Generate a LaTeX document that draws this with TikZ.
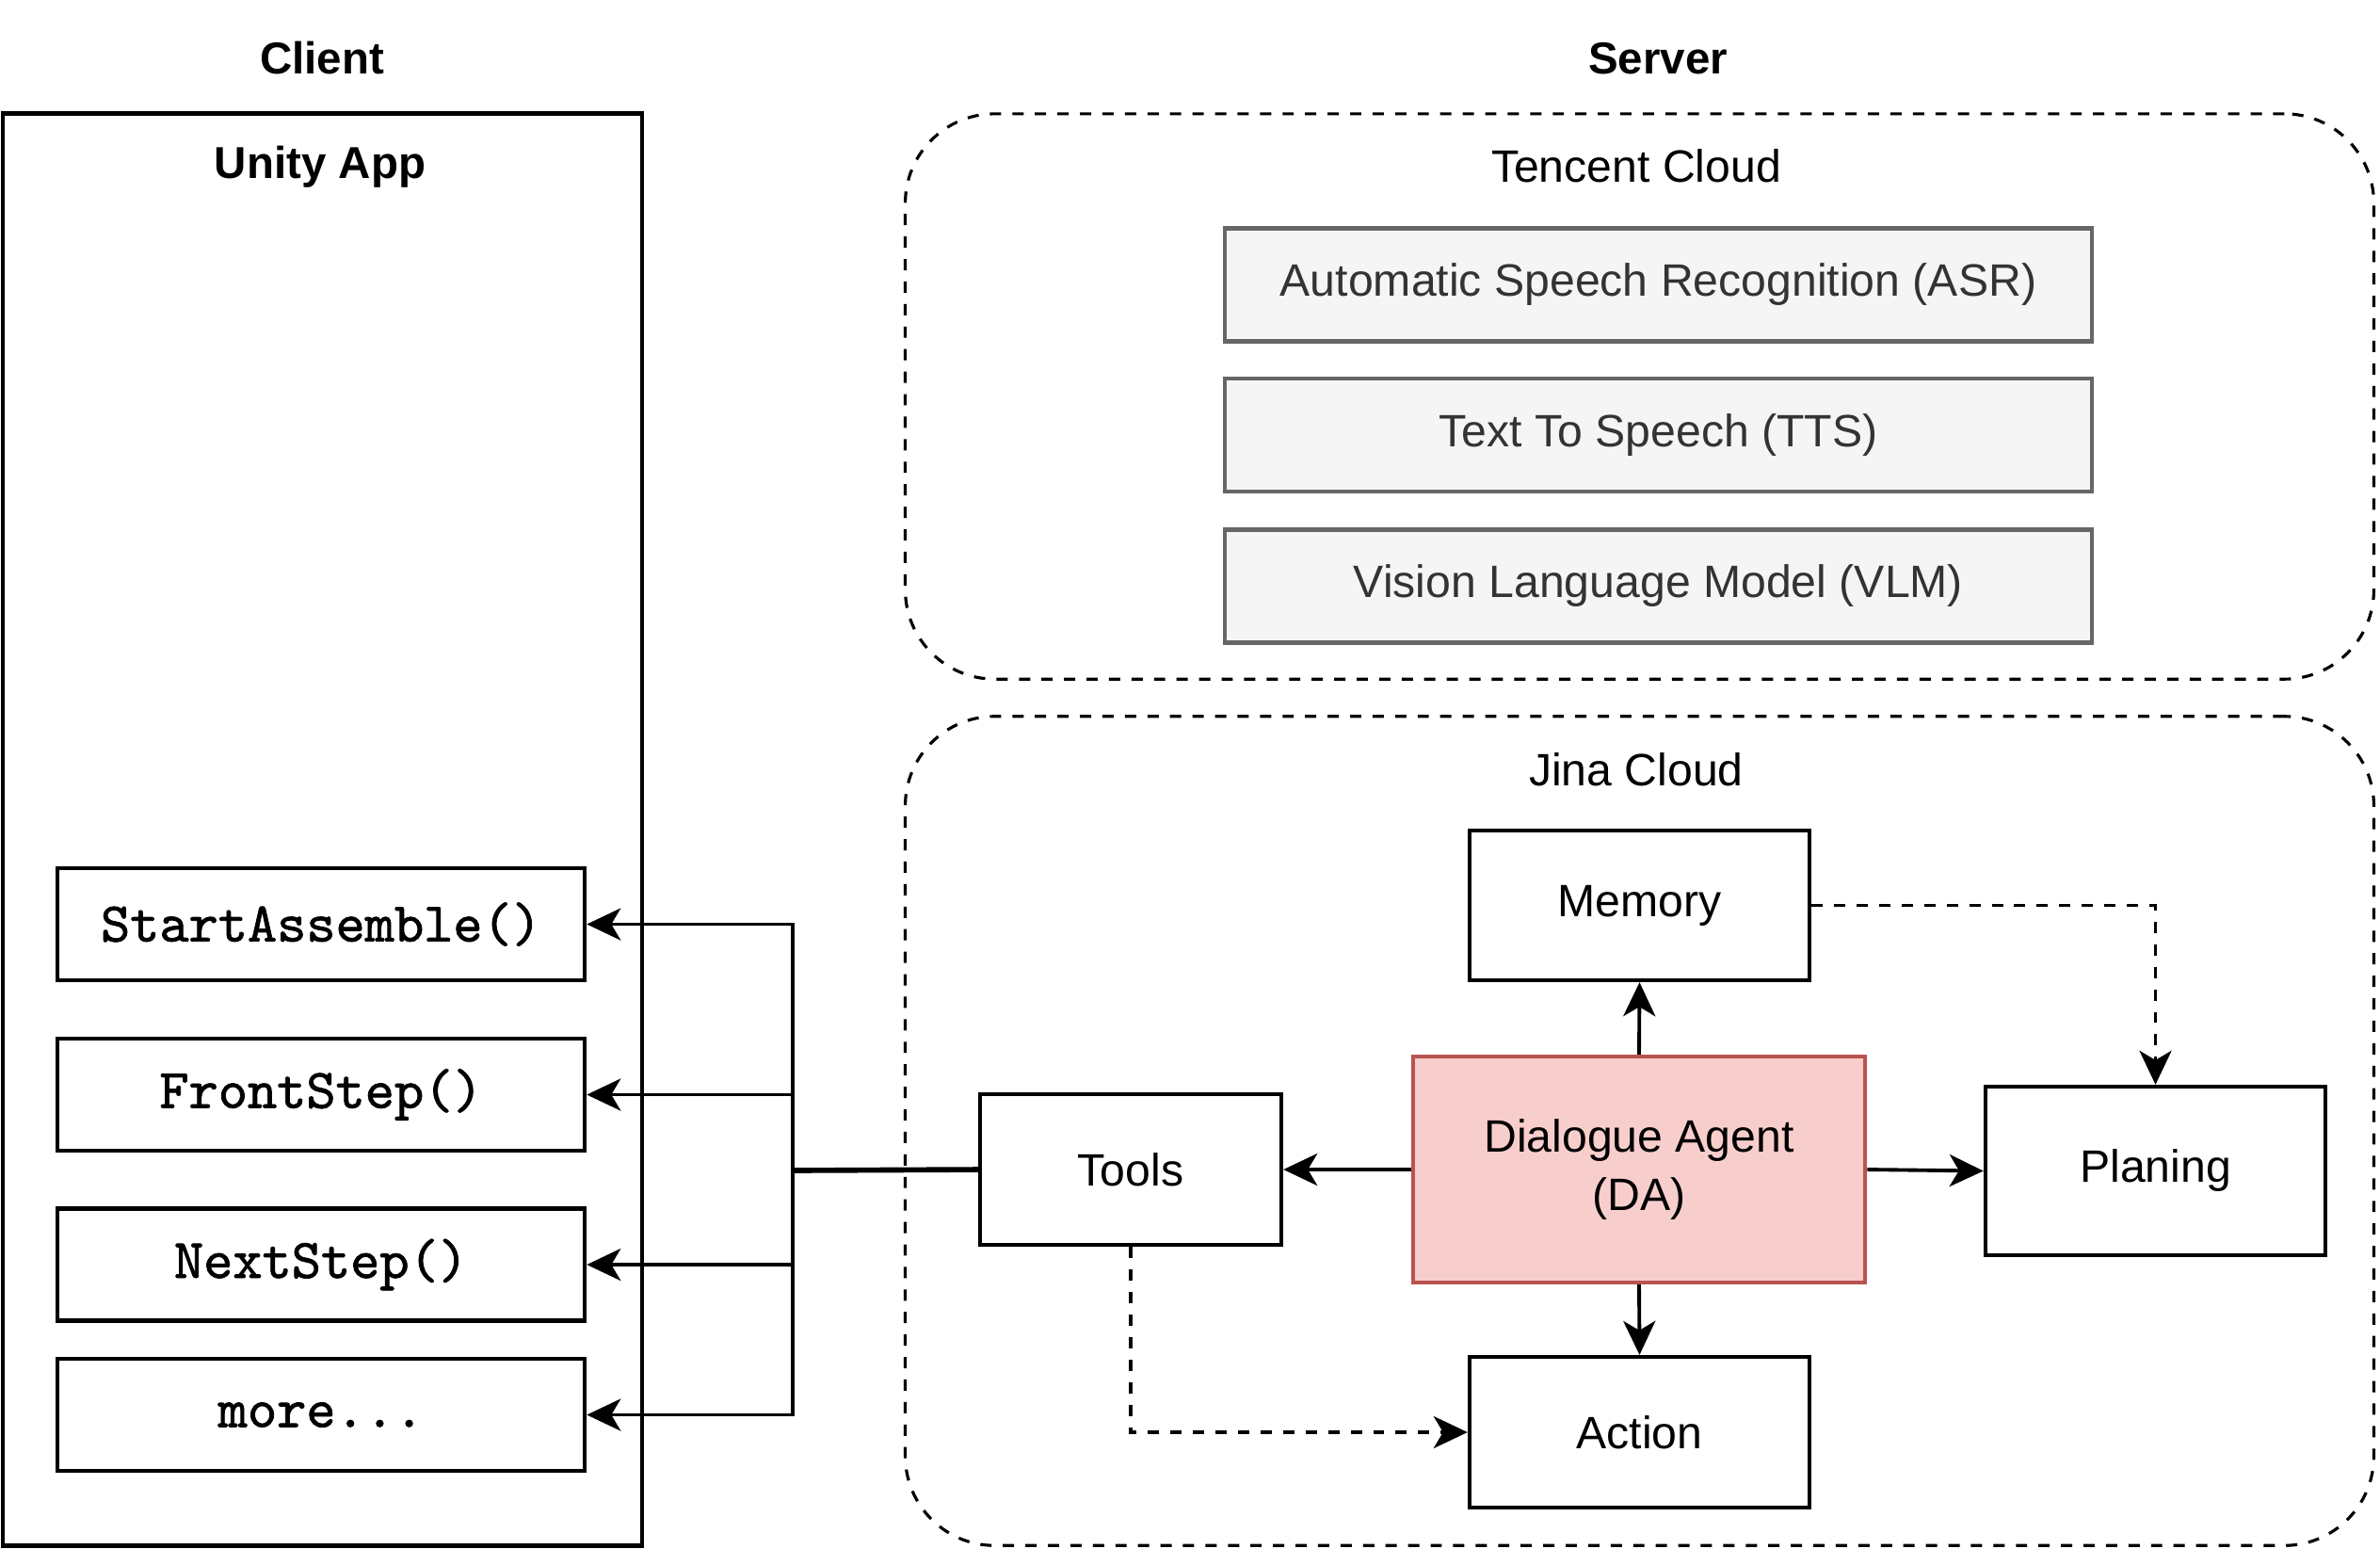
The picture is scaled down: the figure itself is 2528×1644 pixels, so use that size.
\documentclass[tikz,border=0pt]{standalone}
\usepackage{fontspec}
\setmainfont{Liberation Sans}
\setsansfont{Liberation Sans}
\newfontfamily\codefont{lmmono10-regular.otf}[FakeBold=1.3]
\usetikzlibrary{arrows.meta}
\definecolor{grayfill}{HTML}{F5F5F5}
\definecolor{graydraw}{HTML}{666666}
\definecolor{graytext}{HTML}{333333}
\definecolor{dafill}{HTML}{F8CECC}
\definecolor{dadraw}{HTML}{B85450}
\begin{document}
\begin{tikzpicture}[x=0.01cm,y=-0.01cm,
 txt/.style={font=\fontsize{13.7}{17.4}\selectfont, align=center},
 btxt/.style={font=\bfseries\fontsize{13.5}{17.4}\selectfont, align=center},
 boxnode/.style={draw=black, line width=1.2pt, fill=white, inner sep=0pt, txt},
 codebox/.style={boxnode, minimum width=5.6cm, minimum height=1.19cm, font=\codefont\fontsize{16.9}{18}\selectfont},
 graybox/.style={draw=graydraw, fill=grayfill, line width=1.2pt, text=graytext, minimum width=9.21cm, minimum height=1.2cm, inner sep=0pt, txt},
 cloudbox/.style={draw=black, line width=0.9pt, dash pattern=on 3.4pt off 3.4pt, rounded corners=0.95cm, inner sep=0pt},
 conn/.style={line width=1.1pt, -{Stealth[length=0.36cm,width=0.34cm,inset=0.1cm]}},
 dconn/.style={conn, dash pattern=on 3.4pt off 3.4pt},
]
\useasboundingbox (0,0) rectangle (2528,1644);

% titles
\node[btxt] (client) at (342,62) {Client};
\node[btxt] (server) at (1761,62) {Server};

% Unity App
\node[draw=black, line width=1.3pt, inner sep=0pt, minimum width=6.79cm, minimum height=15.2cm] (unity) at (342.5,881) {};
\node[btxt] (unitylbl) at (340,177) {Unity App};
\node[codebox] (sa) at (341,981.5) {StartAssemble()};
\node[codebox] (fs) at (341,1162.5) {FrontStep()};
\node[codebox] (ns) at (341,1343) {NextStep()};
\node[codebox] (more) at (341,1502.5) {more...};

% Tencent Cloud
\node[cloudbox, minimum width=15.59cm, minimum height=6.0cm] (tencent) at (1741.5,421) {};
\node[txt] (tencentlbl) at (1738,176) {Tencent Cloud};
\node[graybox] (asr) at (1761.5,302.5) {Automatic Speech Recognition (ASR)};
\node[graybox] (tts) at (1761.5,462) {Text To Speech (TTS)};
\node[graybox] (vlm) at (1761.5,622.5) {Vision Language Model (VLM)};

% Jina Cloud
\node[cloudbox, minimum width=15.59cm, minimum height=8.8cm] (jina) at (1741.5,1201) {};
\node[txt] (jinalbl) at (1738,817) {Jina Cloud};
\node[boxnode, minimum width=3.2cm, minimum height=1.6cm] (tools) at (1201,1242) {Tools};
\node[boxnode, draw=dadraw, fill=dafill, minimum width=4.8cm, minimum height=2.4cm] (da) at (1741,1242) {Dialogue Agent\\(DA)};
\node[boxnode, minimum width=3.61cm, minimum height=1.59cm] (memory) at (1741.5,961.5) {Memory};
\node[boxnode, minimum width=3.61cm, minimum height=1.79cm] (planing) at (2289.5,1243.5) {Planing};
\node[boxnode, minimum width=3.61cm, minimum height=1.6cm] (action) at (1741.5,1521) {Action};

% connectors
\draw[conn] (da.west) -- (tools.east);
\draw[conn] (da.north) -- (memory.south);
\draw[conn] (da.south) -- (action.north);
\draw[conn] (da.east) -- (planing.west);
\draw[dconn] (memory.east) -| (planing.north);
\draw[dconn] (tools.south) |- (action.west);

\coordinate (bus) at (842,1243);
\draw[line width=1.6pt] (tools.west) -- (bus);
\draw[conn] (bus) |- (sa.east);
\draw[conn] (bus) |- (fs.east);
\draw[conn] (bus) |- (ns.east);
\draw[conn] (bus) |- (more.east);
\end{tikzpicture}
\end{document}
